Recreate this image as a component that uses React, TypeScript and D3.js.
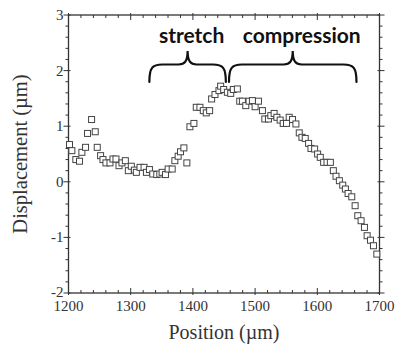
import React from "react";
import * as d3 from "d3";

// Measured displacement profile along the sample
const positions: number[] = [
  1201.6, 1205.4, 1211.8, 1217.7, 1221.5, 1227.4, 1230.6, 1237.1, 1243.0, 1246.2,
  1251.6, 1255.4, 1260.2, 1266.7, 1271.5, 1276.3, 1281.2, 1286.0, 1291.4, 1296.2,
  1301.0, 1305.9, 1309.1, 1315.0, 1321.5, 1325.3, 1330.1, 1335.5, 1341.9, 1346.8,
  1350.5, 1355.9, 1360.2, 1366.7, 1371.0, 1376.3, 1380.1, 1385.5, 1390.3, 1395.2,
  1401.6, 1405.4, 1411.3, 1416.7, 1421.5, 1426.9, 1430.1, 1435.5, 1441.9, 1444.6,
  1449.5, 1455.4, 1460.8, 1465.0, 1471.5, 1475.3, 1479.6, 1485.0, 1490.3, 1495.7,
  1500.0, 1505.4, 1511.8, 1515.6, 1521.5, 1525.3, 1530.6, 1535.0, 1540.3, 1545.2,
  1550.5, 1554.8, 1560.2, 1565.6, 1571.0, 1575.3, 1580.6, 1586.0, 1589.8, 1595.7,
  1600.5, 1604.8, 1610.2, 1615.6, 1621.0, 1625.8, 1630.1, 1635.5, 1640.9, 1645.2,
  1649.5, 1655.4, 1660.8, 1665.1, 1670.4, 1675.8, 1680.1, 1685.5, 1690.3, 1695.7,
];
const displacements: number[] = [
  0.67, 0.56, 0.40, 0.37, 0.53, 0.62, 0.87, 1.12, 0.90, 0.62,
  0.47, 0.40, 0.34, 0.34, 0.41, 0.41, 0.29, 0.34, 0.38, 0.20,
  0.28, 0.21, 0.17, 0.26, 0.26, 0.17, 0.22, 0.14, 0.13, 0.14,
  0.17, 0.13, 0.23, 0.23, 0.38, 0.46, 0.54, 0.61, 0.34, 0.99,
  1.05, 1.34, 1.34, 1.28, 1.24, 1.28, 1.49, 1.57, 1.64, 1.72,
  1.66, 1.61, 1.59, 1.66, 1.67, 1.45, 1.45, 1.37, 1.45, 1.46,
  1.35, 1.45, 1.28, 1.13, 1.13, 1.19, 1.23, 1.16, 1.11, 1.05,
  1.05, 1.16, 1.12, 1.04, 0.88, 0.80, 0.78, 0.69, 0.60, 0.59,
  0.50, 0.44, 0.35, 0.35, 0.35, 0.20, 0.10, 0.02, -0.06, -0.13,
  -0.21, -0.27, -0.43, -0.61, -0.70, -0.82, -0.97, -1.05, -1.15, -1.30,
];

const xTicks: number[] = [1200, 1300, 1400, 1500, 1600, 1700];
const yTicks: number[] = [-2, -1, 0, 1, 2, 3];
const xMinorStep = 20;
const yMinorStep = 0.2;

// Regions marked with curly braces above the curve
const regionNames: string[] = ["stretch", "compression"];
const regionStart: number[] = [1330, 1458];
const regionEnd: number[] = [1453, 1663];

const W = 397;
const H = 349;
const left = 68.5;
const right = 379.5;
const top = 15;
const bottom = 293;

const x = d3.scaleLinear().domain([1200, 1700]).range([left, right]);
const y = d3.scaleLinear().domain([-2, 3]).range([bottom, top]);

const axisColor = "#333";
const serif = "'Liberation Serif', 'Times New Roman', serif";

function bracePath(x0: number, x1: number, yEnd: number, yBar: number, yTip: number): string {
  const xm = (x0 + x1) / 2;
  const r = 9;
  const p = d3.path();
  p.moveTo(x0, yEnd);
  p.bezierCurveTo(x0, yBar + 3, x0 + 3, yBar, x0 + r + 4, yBar);
  p.lineTo(xm - r, yBar);
  p.bezierCurveTo(xm - 3, yBar, xm, yBar - 3, xm, yTip);
  p.bezierCurveTo(xm, yBar - 3, xm + 3, yBar, xm + r, yBar);
  p.lineTo(x1 - r - 4, yBar);
  p.bezierCurveTo(x1 - 3, yBar, x1, yBar + 3, x1, yEnd);
  return p.toString();
}

export default function App() {
  const xMinor = d3.range(1200, 1700 + 0.001, xMinorStep).filter((v) => !xTicks.includes(Math.round(v)));
  const yMinor = d3
    .range(-2, 3 + 0.001, yMinorStep)
    .map((v) => Math.round(v * 10) / 10)
    .filter((v) => !yTicks.includes(v));

  const points = positions.map((p, i) => ({ p, v: displacements[i] }));
  const s = 6;

  return (
    <svg
      width={W}
      height={H}
      style={{ position: "absolute", left: 0, top: 0, background: "#fff" }}
      viewBox={`0 0 ${W} ${H}`}
    >
      <rect x={0} y={0} width={W} height={H} fill="#fff" />

      {/* minor and major ticks on all four sides */}
      <g stroke={axisColor} strokeWidth={1}>
        {xMinor.map((v) => (
          <g key={`xm${v}`}>
            <line x1={x(v)} x2={x(v)} y1={bottom} y2={bottom - 3} />
            <line x1={x(v)} x2={x(v)} y1={top} y2={top + 3} />
          </g>
        ))}
        {yMinor.map((v) => (
          <g key={`ym${v}`}>
            <line x1={left - 3} x2={left} y1={y(v)} y2={y(v)} />
            <line x1={right} x2={right + 3} y1={y(v)} y2={y(v)} />
          </g>
        ))}
        {xTicks.map((v) => (
          <g key={`xM${v}`}>
            <line x1={x(v)} x2={x(v)} y1={bottom + 2} y2={bottom - 5} />
            <line x1={x(v)} x2={x(v)} y1={top - 2} y2={top + 5} />
          </g>
        ))}
        {yTicks.map((v) => (
          <g key={`yM${v}`}>
            <line x1={left - 5} x2={left + 2} y1={y(v)} y2={y(v)} />
            <line x1={right - 2} x2={right + 5} y1={y(v)} y2={y(v)} />
          </g>
        ))}
      </g>

      {/* frame */}
      <rect
        x={left}
        y={top}
        width={right - left}
        height={bottom - top}
        fill="none"
        stroke={axisColor}
        strokeWidth={1.3}
      />

      {/* tick labels */}
      <g fontFamily={serif} fontSize={15} fill="#333">
        {xTicks.map((v) => (
          <text key={`xl${v}`} x={x(v)} y={bottom + 18} textAnchor="middle">
            {v}
          </text>
        ))}
        {yTicks.map((v) => (
          <text key={`yl${v}`} x={left - 5} y={y(v) + (v === -2 ? 3.5 : 5)} textAnchor="end">
            {v < 0 ? `-${Math.abs(v)}` : v}
          </text>
        ))}
      </g>

      {/* axis titles */}
      <text
        x={(left + right) / 2}
        y={339}
        textAnchor="middle"
        fontFamily={serif}
        fontSize={20}
        fill="#333"
      >
        Position (µm)
      </text>
      <text
        transform={`translate(27,${(top + bottom) / 2}) rotate(-90)`}
        textAnchor="middle"
        fontFamily={serif}
        fontSize={20.5}
        fill="#333"
      >
        Displacement (µm)
      </text>

      {/* data markers */}
      <g fill="#fff" stroke="#444" strokeWidth={1}>
        {points.map((d, i) => (
          <rect key={i} x={x(d.p) - s / 2} y={y(d.v) - s / 2} width={s} height={s} />
        ))}
      </g>

      {/* region braces and labels */}
      {regionNames.map((name, i) => {
        const x0 = x(regionStart[i]);
        const x1 = x(regionEnd[i]);
        return (
          <g key={name}>
            <path
              d={bracePath(x0, x1, 82, 64.5, 51)}
              fill="none"
              stroke="#111"
              strokeWidth={2.2}
              strokeLinecap="round"
            />
            <text
              x={(x0 + x1) / 2 + (i === 0 ? 4 : 9)}
              y={43}
              textAnchor="middle"
              fontFamily="Lato, 'Open Sans', sans-serif"
              fontWeight="bold"
              fontSize={21}
              fill="#111"
            >
              {name}
            </text>
          </g>
        );
      })}
    </svg>
  );
}
